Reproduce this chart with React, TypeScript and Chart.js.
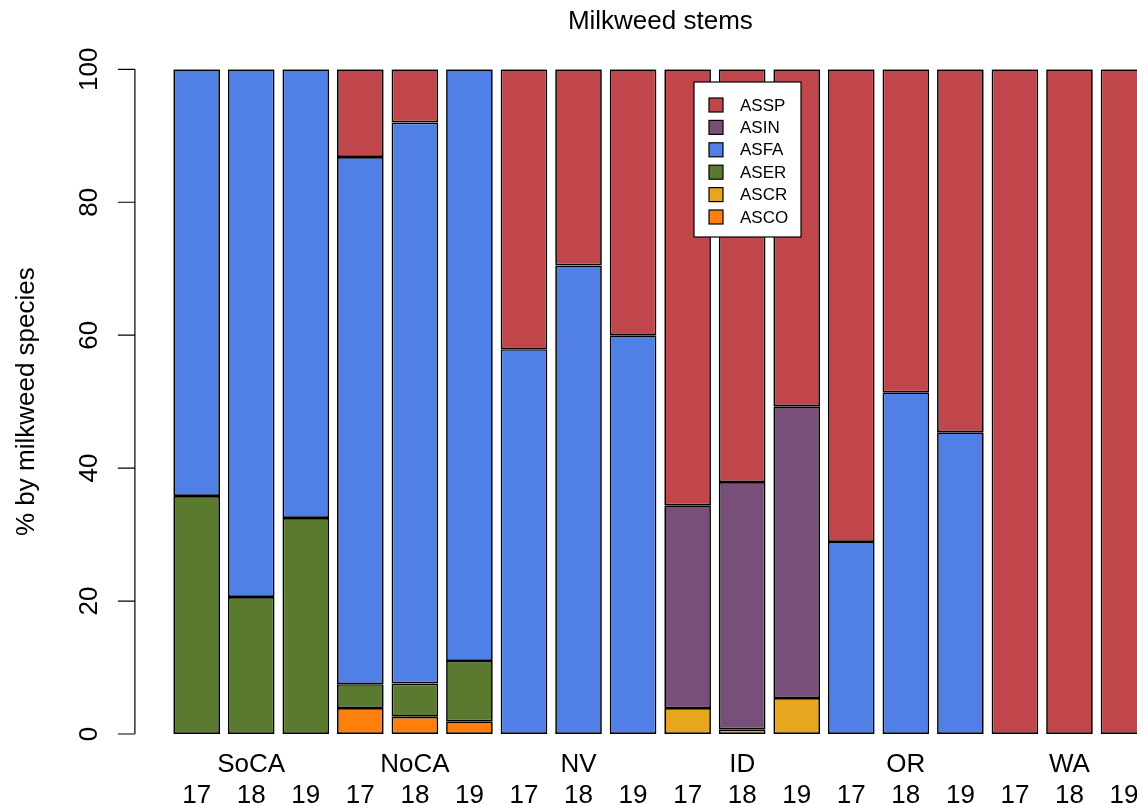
import React, { useEffect, useRef } from "react";
import { Chart, registerables } from "chart.js";

Chart.register(...registerables);

const regions = ["SoCA", "NoCA", "NV", "ID", "OR", "WA"];
const years = ["17", "18", "19"];
const yTicks = [0, 20, 40, 60, 80, 100];

// Bars in order: SoCA 17,18,19, NoCA 17,18,19, NV ..., ID ..., OR ..., WA ...
const ASCO = [0, 0, 0, 3.9, 2.6, 1.9, 0, 0, 0, 0, 0, 0, 0, 0, 0, 0, 0, 0];
const ASCR = [0, 0, 0, 0, 0, 0, 0, 0, 0, 3.9, 0.7, 5.4, 0, 0, 0, 0, 0, 0];
const ASER = [35.8, 20.6, 32.5, 3.6, 5.0, 9.1, 0, 0, 0, 0, 0, 0, 0, 0, 0, 0, 0, 0];
const ASFA = [64.2, 79.4, 67.5, 79.3, 84.4, 89.0, 57.9, 70.5, 60.0, 0, 0, 0, 28.9, 51.4, 45.4, 0, 0, 0];
const ASIN = [0, 0, 0, 0, 0, 0, 0, 0, 0, 30.5, 37.2, 43.9, 0, 0, 0, 0, 0, 0];
const ASSP = [0, 0, 0, 13.2, 8.0, 0, 42.1, 29.5, 40.0, 65.6, 62.1, 50.7, 71.1, 48.6, 54.6, 100, 100, 100];

// stacking order bottom -> top
const speciesNames = ["ASCO", "ASCR", "ASER", "ASFA", "ASIN", "ASSP"];
const speciesValues = [ASCO, ASCR, ASER, ASFA, ASIN, ASSP];
const speciesColors = ["#FF7F0E", "#E6A71E", "#5A7A30", "#5080E6", "#774F78", "#C1464B"];

const FONT = "'Liberation Sans', Arial, Helvetica, sans-serif";

const rAxisPlugin = {
  id: "rAxis",
  afterDraw(chart: any) {
    const { ctx, chartArea } = chart;
    const y = chart.scales.y;
    const axisX = chartArea.left - 34.5;
    const top = y.getPixelForValue(yTicks[yTicks.length - 1]);
    const bot = y.getPixelForValue(yTicks[0]);
    ctx.save();
    ctx.strokeStyle = "#000";
    ctx.lineWidth = 1.2;
    ctx.beginPath();
    ctx.moveTo(axisX, top);
    ctx.lineTo(axisX, bot);
    for (const t of yTicks) {
      const py = y.getPixelForValue(t);
      ctx.moveTo(axisX - 17, py);
      ctx.lineTo(axisX, py);
    }
    ctx.stroke();
    ctx.fillStyle = "#000";
    ctx.font = `26px ${FONT}`;
    ctx.textAlign = "center";
    ctx.textBaseline = "alphabetic";
    for (const t of yTicks) {
      const py = y.getPixelForValue(t);
      ctx.save();
      ctx.translate(axisX - 38, py);
      ctx.rotate(-Math.PI / 2);
      ctx.fillText(String(t), 0, 0);
      ctx.restore();
    }
    ctx.save();
    ctx.translate(axisX - 101, (top + bot) / 2);
    ctx.rotate(-Math.PI / 2);
    ctx.fillText("% by milkweed species", 0, 0);
    ctx.restore();
    ctx.restore();
  },
};

const legendPlugin = {
  id: "rLegend",
  afterDraw(chart: any) {
    const { ctx } = chart;
    const bx = 694, by = 82, bw = 107, bh = 155;
    ctx.save();
    ctx.fillStyle = "#fff";
    ctx.fillRect(bx, by, bw, bh);
    ctx.strokeStyle = "#000";
    ctx.lineWidth = 1.2;
    ctx.strokeRect(bx, by, bw, bh);
    ctx.font = `17px ${FONT}`;
    ctx.textAlign = "left";
    ctx.textBaseline = "middle";
    const ds = chart.data.datasets.slice().reverse();
    ds.forEach((d: any, i: number) => {
      const cy = by + 23 + i * 22.4;
      ctx.fillStyle = d.backgroundColor;
      ctx.fillRect(bx + 15, cy - 7, 14, 14);
      ctx.strokeStyle = "#000";
      ctx.lineWidth = 1.2;
      ctx.strokeRect(bx + 15, cy - 7, 14, 14);
      ctx.fillStyle = "#000";
      ctx.fillText(d.label, bx + 46, cy + 1);
    });
    ctx.restore();
  },
};

export default function App() {
  const ref = useRef<HTMLCanvasElement | null>(null);

  useEffect(() => {
    if (!ref.current) return;
    Chart.defaults.font.family = FONT;
    Chart.defaults.color = "#000";

    const labels: string[][] = [];
    regions.forEach((r) => {
      years.forEach((yr, j) => {
        labels.push([j === 1 ? r : "", yr]);
      });
    });

    const chart = new Chart(ref.current, {
      type: "bar",
      data: {
        labels,
        datasets: speciesNames.map((name, i) => ({
          label: name,
          data: speciesValues[i],
          backgroundColor: speciesColors[i],
          borderColor: "#000",
          borderWidth: 1.7,
          borderSkipped: false,
          categoryPercentage: 1,
          barPercentage: 0.855,
        })),
      },
      options: {
        responsive: false,
        animation: false,
        devicePixelRatio: 1,
        layout: { padding: { left: 169.4, right: 13.7, top: 0, bottom: 0 } },
        plugins: {
          legend: { display: false },
          tooltip: { enabled: false },
          title: {
            display: true,
            text: "Milkweed stems",
            color: "#000",
            font: { size: 26, weight: "normal", family: FONT, lineHeight: 1.2 },
            padding: { top: 6.1, bottom: 32 },
          },
        },
        scales: {
          x: {
            stacked: true,
            grid: { display: false },
            border: { display: false },
            ticks: {
              autoSkip: false,
              maxRotation: 0,
              minRotation: 0,
              padding: 7.5,
              color: "#000",
              font: { size: 26, family: FONT, lineHeight: 31 / 26 },
            },
            afterFit: (s: any) => {
              s.height = 70;
            },
          },
          y: {
            stacked: true,
            display: false,
            min: 0,
            max: 100,
          },
        },
      },
      plugins: [rAxisPlugin, legendPlugin],
    });
    return () => chart.destroy();
  }, []);

  return (
    <div
      style={{
        position: "fixed",
        left: 0,
        top: 0,
        width: 1137,
        height: 804,
        overflow: "hidden",
        background: "#fff",
      }}
    >
      <canvas ref={ref} width={1165} height={804} style={{ display: "block", width: 1165, height: 804 }} />
    </div>
  );
}
